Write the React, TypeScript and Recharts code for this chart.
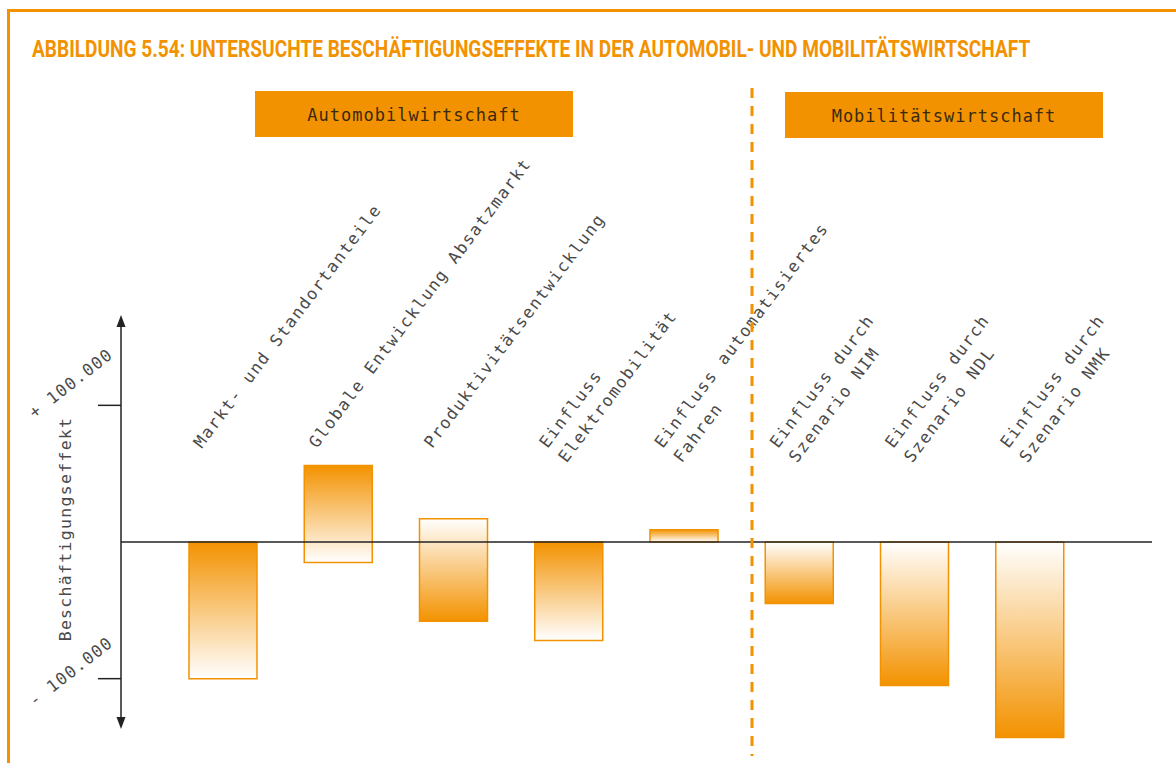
import React, { useLayoutEffect, useRef, useState } from 'react';
import { BarChart, Bar, Cell, XAxis, YAxis, ReferenceLine } from 'recharts';

const categories = [
  'Markt- und Standortanteile',
  'Globale Entwicklung Absatzmarkt',
  'Produktivitätsentwicklung',
  'Einfluss\nElektromobilität',
  'Einfluss automatisiertes\nFahren',
  'Einfluss durch\nSzenario NIM',
  'Einfluss durch\nSzenario NDL',
  'Einfluss durch\nSzenario NMK',
];
const lows = [-100000, -15000, -58000, -72000, 0, -45000, -105000, -143000];
const highs = [0, 56000, 17000, 0, 9000, 0, 0, 0];
// true = orange at the top, fading to white at the bottom
const fadeDown = [true, true, false, true, true, false, false, false];
const yTicks = [-100000, 100000];
const yTickLabels: Record<number, string> = { '-100000': '- 100.000', '100000': '+ 100.000' };

const sections = ['Automobilwirtschaft', 'Mobilitätswirtschaft'];
const title = 'ABBILDUNG 5.54: UNTERSUCHTE BESCHÄFTIGUNGSEFFEKTE IN DER AUTOMOBIL- UND MOBILITÄTSWIRTSCHAFT';

const chartData = categories.map((name, i) => ({
  name,
  range: [lows[i], highs[i]],
}));

const ORANGE = '#F39200';
const MONO = '"DejaVu Sans Mono", monospace';
const TEXT = '#4a4a4a';

function CategoryTick({ x, payload }: any) {
  const lines: string[] = String(payload.value).split('\n');
  const sx = x - 21;
  const sy = 449;
  return (
    <text
      x={sx}
      y={sy}
      transform={`rotate(-53, ${sx}, ${sy})`}
      fontFamily={MONO}
      fontSize={16.5}
      letterSpacing={1.6}
      fill={TEXT}
      textAnchor="start"
    >
      {lines.map((l, i) => (
        <tspan key={i} x={sx} dy={i === 0 ? 0 : 24}>
          {l}
        </tspan>
      ))}
    </text>
  );
}

function ValueTick({ y, payload }: any) {
  const v = Number(payload.value);
  const cx = 71;
  const cy = y + (v > 0 ? -22 : -7);
  return (
    <text
      x={cx}
      y={cy}
      transform={`rotate(-38, ${cx}, ${cy})`}
      fontFamily={MONO}
      fontSize={16.5}
      letterSpacing={1.3}
      fill={TEXT}
      textAnchor="middle"
      dominantBaseline="central"
    >
      {yTickLabels[v]}
    </text>
  );
}

function Title() {
  const ref = useRef<SVGTextElement>(null);
  const [sx, setSx] = useState(0.85);
  useLayoutEffect(() => {
    if (ref.current) {
      const w = ref.current.getComputedTextLength();
      if (w > 0) setSx(998 / w);
    }
  }, []);
  return (
    <text
      ref={ref}
      x={0}
      y={0}
      transform={`translate(32, 57) scale(${sx}, 1)`}
      fontFamily="Roboto, sans-serif"
      fontWeight={700}
      fontSize={23}
      fill={ORANGE}
    >
      {title}
    </text>
  );
}

export default function App() {
  return (
    <div style={{ position: 'absolute', left: 0, top: 0, width: 1176, height: 763, background: '#fff', overflow: 'hidden' }}>
      <BarChart
        width={1176}
        height={763}
        data={chartData}
        margin={{ top: 337, right: 24, bottom: 0, left: 0 }}
        barCategoryGap={0}
      >
        <defs>
          <linearGradient id="fadeDown" x1="0" y1="0" x2="0" y2="1">
            <stop offset="0%" stopColor={ORANGE} />
            <stop offset="100%" stopColor="#ffffff" />
          </linearGradient>
          <linearGradient id="fadeUp" x1="0" y1="0" x2="0" y2="1">
            <stop offset="0%" stopColor="#ffffff" />
            <stop offset="100%" stopColor={ORANGE} />
          </linearGradient>
        </defs>
        <XAxis
          dataKey="name"
          interval={0}
          height={16}
          axisLine={false}
          tickLine={false}
          padding={{ left: 44, right: 65 }}
          tick={<CategoryTick />}
        />
        <YAxis
          width={121}
          domain={[-150000, 150000]}
          ticks={yTicks}
          allowDataOverflow
          axisLine={false}
          tickSize={23}
          tickLine={{ stroke: '#222', strokeWidth: 1.5 }}
          tick={<ValueTick />}
        />
        <Bar dataKey="range" barSize={68} isAnimationActive={false} stroke={ORANGE} strokeWidth={1.5}>
          {chartData.map((_, i) => (
            <Cell key={i} fill={fadeDown[i] ? 'url(#fadeDown)' : 'url(#fadeUp)'} />
          ))}
        </Bar>
        <ReferenceLine y={0} stroke="#222" strokeWidth={1.5} />
      </BarChart>

      <svg width={1176} height={763} style={{ position: 'absolute', left: 0, top: 0, pointerEvents: 'none' }}>
        {/* frame */}
        <line x1={7} y1={10.5} x2={1176} y2={10.5} stroke={ORANGE} strokeWidth={3} />
        <line x1={8.5} y1={9} x2={8.5} y2={763} stroke={ORANGE} strokeWidth={3} />
        <Title />

        {/* section headers */}
        <rect x={255} y={91} width={318} height={46} fill={ORANGE} />
        <text x={414} y={115} fontFamily={MONO} fontSize={17} letterSpacing={1} fill="#3a2a10" textAnchor="middle" dominantBaseline="central">
          {sections[0]}
        </text>
        <rect x={785} y={92} width={318} height={46} fill={ORANGE} />
        <text x={944} y={116} fontFamily={MONO} fontSize={17} letterSpacing={1} fill="#3a2a10" textAnchor="middle" dominantBaseline="central">
          {sections[1]}
        </text>

        {/* divider */}
        <line x1={752} y1={88} x2={752} y2={756} stroke={ORANGE} strokeWidth={3} strokeDasharray="10 8" />

        {/* value axis with arrows */}
        <line x1={121} y1={324} x2={121} y2={720} stroke="#222" strokeWidth={1.5} />
        <polygon points="121,315 116.5,327 125.5,327" fill="#222" />
        <polygon points="121,729 116.5,717 125.5,717" fill="#222" />
        <text
          x={65}
          y={529}
          transform="rotate(-90, 65, 529)"
          fontFamily={MONO}
          fontSize={16.5}
          letterSpacing={1.3}
          fill={TEXT}
          textAnchor="middle"
          dominantBaseline="central"
        >
          Beschäftigungseffekt
        </text>
      </svg>
    </div>
  );
}
